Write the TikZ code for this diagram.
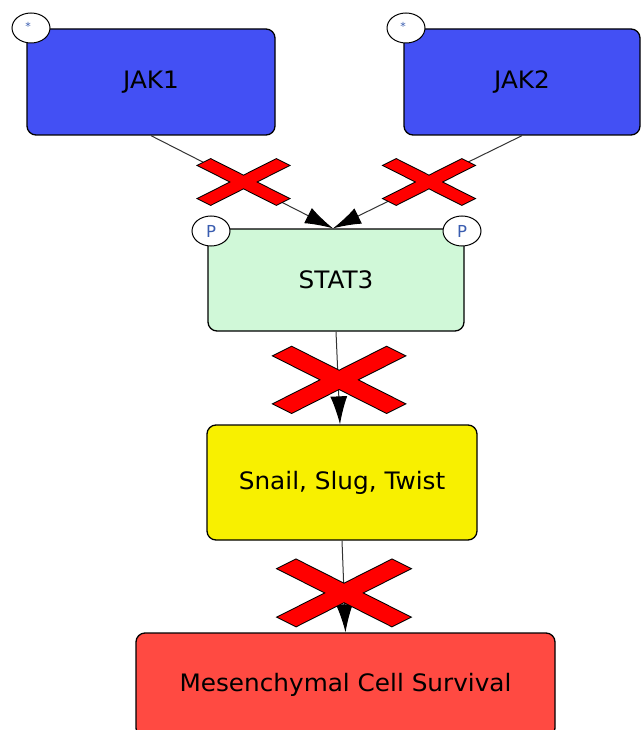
\documentclass[tikz,border=0pt]{standalone}
\usepackage{fontspec}
\setmainfont{DejaVu Sans}
\newfontfamily\pwfont[FakeStretch=1.03]{DejaVu Sans}
\usetikzlibrary{arrows.meta,calc,shapes.geometric}

\definecolor{jakblue}{HTML}{4350F4}
\definecolor{statgreen}{HTML}{D0F8D8}
\definecolor{tfyellow}{HTML}{F8F000}
\definecolor{survred}{HTML}{FF4A42}
\definecolor{pblue}{HTML}{3A5DB0}

\tikzset{knockout/.pic={
  \draw[line width=2pt] (-47.5,-33) -- (65.5,24) -- (47.5,33) -- (-65.5,-24) -- cycle
    (65.5,-24) -- (-47.5,33) -- (-65.5,24) -- (47.5,-33) -- cycle;
  \fill[red] (-47.5,-33) -- (65.5,24) -- (47.5,33) -- (-65.5,-24) -- cycle
    (65.5,-24) -- (-47.5,33) -- (-65.5,24) -- (47.5,-33) -- cycle;
}}

\begin{document}
\begin{tikzpicture}[x=1pt,y=-1pt]
\tikzstyle{protein} = [draw, line width=1.3pt, rounded corners=9pt, align=center,
  font=\pwfont\fontsize{24}{26}\selectfont]
\tikzstyle{site} = [draw, fill=white, ellipse, line width=1pt, inner sep=0pt,
  minimum width=38pt, minimum height=30pt]
\tikzstyle{line} = [draw, gray!40!black, line width=1pt,
  -{Latex[length=28pt,width=17pt,color=black]}]
\useasboundingbox (0,0) rectangle (641,730);

% proteins
\node[protein, fill=jakblue, minimum width=248pt, minimum height=106pt] (jak1) at (151,82) {JAK1};
\node[protein, fill=jakblue, minimum width=236pt, minimum height=106pt] (jak2) at (522,82) {JAK2};
\node[protein, fill=statgreen, minimum width=256pt, minimum height=102pt] (stat3) at (336,280) {STAT3};
\node[protein, fill=tfyellow, minimum width=270pt, minimum height=115pt] (snail) at (342,482.5) {Snail, Slug, Twist};
\node[protein, fill=survred, minimum width=419pt, minimum height=104pt] (survival) at (345.5,685) {Mesenchymal Cell Survival};

% modification sites
\node[site] (jak1star) at (31,28) {};
\node[site] (jak2star) at (406,28) {};
\node[site, font=\fontsize{16.5}{16.5}\selectfont, text=pblue] (stat3pl) at (211,231) {P};
\node[site, font=\fontsize{16.5}{16.5}\selectfont, text=pblue] (stat3pr) at (462,231) {P};
\node[font=\fontsize{11}{11}\selectfont, text=pblue] at ([xshift=-3pt,yshift=2pt]jak1star) {*};
\node[font=\fontsize{11}{11}\selectfont, text=pblue] at ([xshift=-3pt,yshift=2pt]jak2star) {*};

% edges
\path[line] (jak1.south) -- ([xshift=-3pt]stat3.north);
\path[line] (jak2.south) -- ([xshift=-3pt]stat3.north);
\path[line] (stat3.south) -- ([xshift=-2pt]snail.north);
\path[line] (snail.south) -- (survival.north);

% knockouts
\coordinate (ko1) at ($(jak1.south)!0.5!(stat3.north)$);
\coordinate (ko2) at ($(jak2.south)!0.5!(stat3.north)$);
\coordinate (ko3) at ($(stat3.south)!0.52!(snail.north)$);
\coordinate (ko4) at ($(snail.south)!0.57!(survival.north)$);
\foreach \k/\s in {ko1/0.69, ko2/0.69, ko3/1, ko4/1.01}
  \pic[scale=\s] at (\k) {knockout};

\end{tikzpicture}
\end{document}
